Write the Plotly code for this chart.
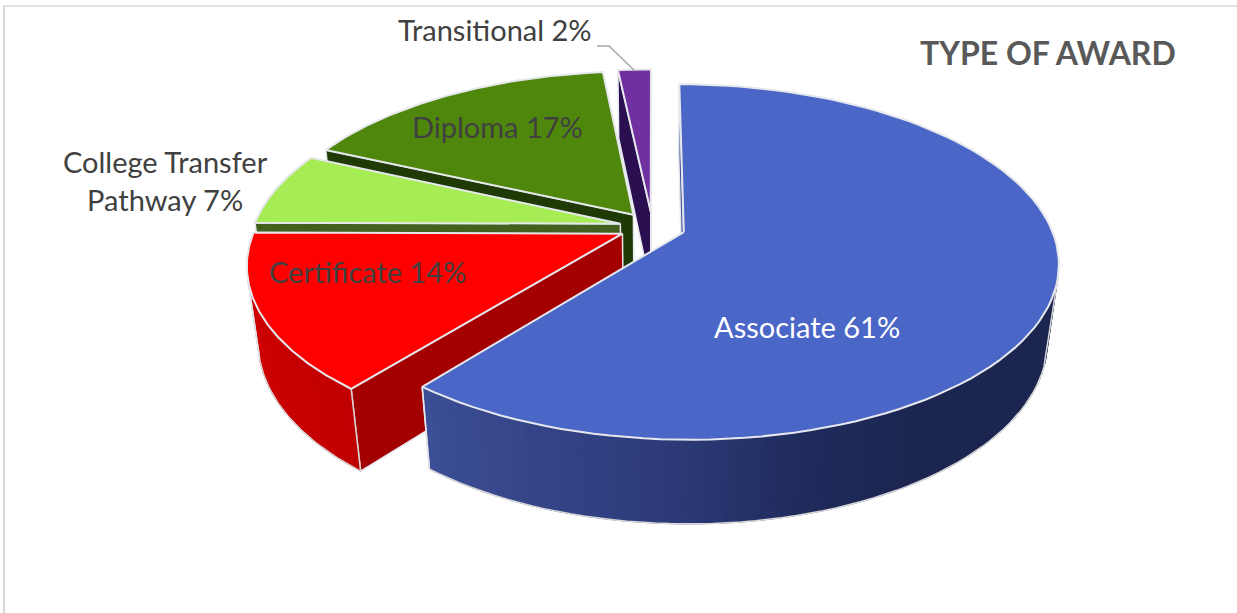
import math
import plotly.graph_objects as go

categories = ["Associate", "Certificate", "College Transfer Pathway", "Diploma", "Transitional"]
values = [60.8, 14.3, 6.7, 16.5, 1.7]
label_text = ["Associate 61%", "Certificate 14%", "College Transfer<br>Pathway 7%", "Diploma 17%", "Transitional 2%"]
label_xy = [(807, 326), (367, 271), (165, 180), (497, 126), (495, 29)]
label_color = ["#FFFFFF", "#404040", "#404040", "#404040", "#404040"]
top_color = ["#4A66C6", "#FF0000", "#A6EC55", "#4F860C", "#7030A0"]
side_color = ["#3D5096", "#A30000", "#44601F", "#1F3A05", "#2A1050"]
wall_stops = [
    [(90, "#1B2550"), (148, "#1B2550"), (163, "#1F2A5A"), (183, "#2C3A78"), (219, "#3C4F96")],
    [(219, "#C00000"), (245, "#CC0000"), (271, "#DA0000")],
    [(267, "#44601F"), (295, "#44601F")],
    [(292, "#1F3A05"), (355, "#1F3A05")],
    [(352, "#2A1050"), (360, "#2A1050")],
]

CX, CY, A, B, K = 652.5, 227.0, 367.0, 171.0, 0.167
D, M, EXPLODE = 78.0, 0.028, 0.09
EDGE = "#E6E8EE"
RIM_EDGE = "#D9D9D9"


def proj(u, v, z=0.0):
    w = 1 + K * v + M * z
    return CX + A * u / w, CY - (B * v - D * z) / w


def hex_mix(c1, c2, t):
    a = [int(c1[i:i + 2], 16) for i in (1, 3, 5)]
    b = [int(c2[i:i + 2], 16) for i in (1, 3, 5)]
    return "#%02X%02X%02X" % tuple(round(p + (q - p) * t) for p, q in zip(a, b))


def wall_col(stops, th):
    if th <= stops[0][0]:
        return stops[0][1]
    for (t0, c0), (t1, c1) in zip(stops, stops[1:]):
        if th <= t1:
            return hex_mix(c0, c1, (th - t0) / (t1 - t0))
    return stops[-1][1]


def cross(p, q, r, s):
    return (q[0] - p[0]) * (s[1] - r[1]) - (q[1] - p[1]) * (s[0] - r[0])


fig = go.Figure()


def poly(pts, fill, line=None, width=1.0):
    xs = [p[0] for p in pts] + [pts[0][0]]
    ys = [p[1] for p in pts] + [pts[0][1]]
    fig.add_trace(go.Scatter(x=xs, y=ys, mode="lines", fill="toself", fillcolor=fill,
                             line=dict(color=line or fill, width=width),
                             hoverinfo="skip", showlegend=False))


def path(pts, color=EDGE, width=1.5):
    fig.add_trace(go.Scatter(x=[p[0] for p in pts], y=[p[1] for p in pts], mode="lines",
                             line=dict(color=color, width=width), hoverinfo="skip", showlegend=False))


total = sum(values)
spans = []
a0 = 0.0
for val in values:
    a1 = a0 + val / total * 360
    spans.append((a0, a1))
    a0 = a1

for idx in reversed(range(len(values))):
    t0, t1 = spans[idx]
    mid = math.radians((t0 + t1) / 2)
    ox, oy = EXPLODE * math.sin(mid), EXPLODE * math.cos(mid)

    def rim(th_deg, z=0.0):
        th = math.radians(th_deg)
        return proj(ox + math.sin(th), oy + math.cos(th), z)

    apex_t, apex_b = proj(ox, oy, 0), proj(ox, oy, 1)
    centre = rim((t0 + t1) / 2)
    # radial walls that face the viewer
    for th in (t0, t1):
        r = rim(th)
        facing = cross(apex_t, r, r, rim(th, 1)) * cross(apex_t, r, apex_t, centre) < 0
        if facing:
            poly([apex_t, r, rim(th, 1), apex_b], side_color[idx], EDGE, 1.5)
    # outer wall: shaded strips, only where it faces the viewer
    n = max(2, int((t1 - t0) / 1.5))
    visible = []
    for j in range(n):
        a = t0 + (t1 - t0) * j / n
        b = t0 + (t1 - t0) * (j + 1) / n
        if cross(rim(a), rim(b), rim(a), rim(a, 1)) < 0:
            poly([rim(a), rim(b), rim(b, 1), rim(a, 1)], wall_col(wall_stops[idx], (a + b) / 2))
            visible += [a, b]
    if visible:
        lo, hi = min(visible), max(visible)
        steps = [lo + (hi - lo) * j / 60 for j in range(61)]
        path([rim(lo)] + [rim(s, 1) for s in steps] + [rim(hi)], RIM_EDGE, 1.5)
        path([rim(hi), rim(hi, 1)], EDGE, 1.5)
    # top face
    steps = [t0 + (t1 - t0) * j / 100 for j in range(101)]
    poly([apex_t] + [rim(s) for s in steps], top_color[idx], EDGE, 2)

# leader line for the smallest slice
fig.add_trace(go.Scatter(x=[597, 609, 635], y=[46, 46, 71], mode="lines",
                         line=dict(color="#A6A6A6", width=1.5), hoverinfo="skip", showlegend=False))

annotations = []
for txt, (x, y), col in zip(label_text, label_xy, label_color):
    annotations.append(dict(x=x, y=y, xref="x", yref="y", text=txt, showarrow=False,
                            font=dict(family="Lato", size=29, color=col), align="center"))
annotations.append(dict(x=1048, y=52, xref="x", yref="y", text="<b>TYPE OF AWARD</b>", showarrow=False,
                        font=dict(family="Lato", size=32, color="#595959")))

shapes = [
    dict(type="line", x0=3, x1=1237, y0=6, y1=6, xref="x", yref="y", line=dict(color="#D9D9D9", width=1.5)),
    dict(type="line", x0=4, x1=4, y0=6, y1=613, xref="x", yref="y", line=dict(color="#D9D9D9", width=2)),
]

fig.update_layout(width=1237, height=613, margin=dict(l=0, r=0, t=0, b=0),
                  paper_bgcolor="white", plot_bgcolor="white",
                  xaxis=dict(range=[0, 1237], visible=False, fixedrange=True),
                  yaxis=dict(range=[613, 0], visible=False, fixedrange=True),
                  annotations=annotations, shapes=shapes, showlegend=False)
fig.write_html("out.html", config=dict(displayModeBar=False),
               post_script="document.body.style.margin='0';document.body.style.overflow='hidden';")
